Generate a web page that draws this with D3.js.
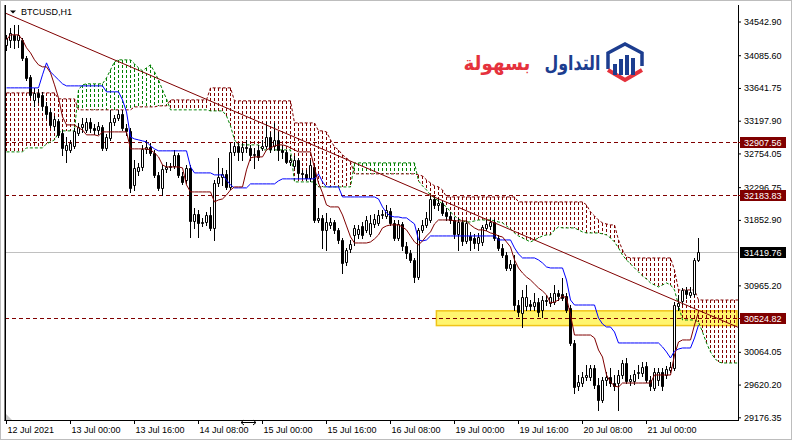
<!DOCTYPE html>
<html><head><meta charset="utf-8"><title>BTCUSD,H1</title>
<script src="https://cdn.jsdelivr.net/npm/d3@7/dist/d3.min.js"></script>
<style>html,body{margin:0;padding:0;background:#fff;overflow:hidden}svg{display:block}</style>
</head><body><svg id="chart" width="792" height="440"></svg>
<script>
// ---------- DATA ----------
const symbolTitle = "BTCUSD,H1";
const logoWord1 = "التداول";
const logoWord2 = "بسهولة";
const timeTicks = [0,16,32,48,64,80,96,112,128,144,160];
const timeTickLabels = ["12 Jul 2021","13 Jul 00:00","13 Jul 16:00","14 Jul 08:00","15 Jul 00:00","15 Jul 16:00","16 Jul 08:00","19 Jul 00:00","19 Jul 16:00","20 Jul 08:00","21 Jul 00:00"];
const priceTicks = [34542.90,34085.60,33641.75,33197.90,32754.05,32296.75,31852.90,30965.20,30064.05,29620.20,29176.35];
const levels = [32907.56,32183.83,30524.82];
const lastPrice = 31419.76;
const trendIdx = [0,183];
const trendPrice = [34653,30397];
const zoneIdx = [107.6,182.75];
const zonePrice = [30620,30420];

const opens = [34227,34294,34362,34294,34294,34050,33792,33480,33575,33548,
33399,33318,33128,33196,33033,32802,32802,32856,33033,33114,
33073,33182,33101,33073,33114,32829,32965,33182,33236,33290,
33101,33060,32327,32517,32571,32816,32843,32761,32463,32287,
32545,32571,32585,32734,32449,32395,32558,31839,31934,31812,
31825,31920,31744,32354,32436,32477,32300,32775,32856,32775,
32843,32829,32734,32802,32829,32856,32978,32856,32938,32802,
32775,32639,32585,32666,32490,32477,32422,32571,31852,31880,
31717,31785,31825,31717,31581,31283,31459,31649,31663,31771,
31717,31663,31798,31812,31920,31907,31975,31812,31608,31798,
31500,31405,31310,31079,31717,31785,31852,32137,32056,32083,
31961,31907,31852,31663,31825,31568,31635,31608,31540,31554,
31744,31771,31825,31608,31473,31377,31201,31256,30699,30591,
30686,30713,30686,30740,30632,30767,30727,30740,30862,30849,
30822,30659,30184,29601,29641,29723,29723,29845,29614,29411,
29682,29723,29641,29641,29750,29913,29668,29668,29777,29777,
29872,29682,29573,29682,29790,29750,29818,29845,30686,30754,
30903,30835,30849,31310];
const highs = [34362,34457,34498,34498,34322,34077,33820,33643,33630,33589,
33453,33372,33263,33223,33073,32978,32938,33101,33168,33236,
33236,33236,33155,33182,33141,33019,33345,33277,33345,33345,
33155,33101,32666,32626,32870,32938,32897,32802,32504,32598,
32639,32626,32802,32761,32504,32598,32598,32015,31988,31880,
31961,32029,32395,32694,32558,32531,32897,32911,32897,32897,
32938,32870,32829,32870,32938,33182,33046,33168,33046,32870,
32802,32734,32721,32694,32531,32531,32666,32598,32015,31920,
31947,31880,31852,31744,31608,31473,31581,31785,31785,31825,
31907,31920,31934,31988,31988,32056,32015,31852,31852,31825,
31554,31445,31337,31744,31852,31961,32178,32178,32151,32124,
32015,31961,31893,31880,31852,31852,31690,31663,31676,31785,
31852,31880,31866,31649,31527,31418,31310,31377,30767,30903,
30971,30767,30862,30794,30822,30835,30862,30971,30903,31066,
30862,30699,30225,29750,29790,29885,29885,29885,29709,29723,
29790,29845,29750,29818,29953,29980,29750,29818,29885,29926,
29926,29736,29845,29845,29845,29872,29926,30740,30835,30930,
30944,30944,31337,31608];
const lows = [34159,34199,34186,34199,34023,33752,33521,33399,33453,33345,
33236,33114,33073,32978,32734,32639,32775,32829,33006,33046,
33046,33046,33019,33019,32802,32802,32938,33141,33209,33073,
33006,32232,32259,32463,32531,32761,32734,32436,32259,32192,
32504,32531,32558,32436,32341,32354,31622,31744,31622,31771,
31785,31717,31581,32314,32327,32273,32273,32734,32666,32666,
32775,32666,32558,32666,32802,32829,32775,32802,32666,32694,
32626,32598,32558,32422,32422,32395,32382,31825,31825,31473,
31445,31744,31676,31540,31133,31242,31418,31513,31608,31608,
31690,31635,31757,31785,31880,31880,31785,31581,31581,31445,
31337,31283,31011,31052,31690,31757,31825,32015,31988,31920,
31852,31812,31608,31445,31513,31540,31445,31473,31445,31513,
31717,31730,31581,31445,31350,31174,31174,30632,30550,30401,
30632,30632,30632,30550,30537,30699,30686,30713,30767,30767,
30604,30157,29506,29546,29601,29682,29682,29573,29275,29384,
29614,29601,29546,29275,29709,29641,29614,29628,29709,29736,
29655,29546,29546,29614,29546,29709,29790,29818,30632,30713,
30794,30808,30822,31296];
const closes = [34322,34389,34294,34362,34050,33779,33548,33575,33521,33399,
33290,33141,33223,33006,32829,32870,32897,33060,33114,33155,
33182,33101,33073,33128,32829,32978,33182,33236,33290,33101,
33060,32287,32558,32571,32816,32843,32761,32463,32287,32545,
32571,32585,32734,32463,32368,32558,31839,31934,31812,31825,
31920,31744,32354,32436,32477,32300,32775,32856,32775,32843,
32829,32734,32748,32707,32856,32978,32816,32938,32802,32775,
32639,32666,32666,32490,32477,32422,32598,31852,31880,31717,
31825,31825,31717,31581,31269,31445,31527,31744,31730,31649,
31852,31812,31866,31920,31934,31988,31812,31608,31798,31500,
31405,31310,31079,31717,31785,31880,32137,32056,32083,31947,
31907,31852,31663,31825,31568,31812,31581,31540,31622,31757,
31798,31825,31608,31473,31377,31201,31256,30699,30604,30808,
30808,30686,30740,30604,30767,30754,30808,30862,30822,30794,
30632,30184,29587,29655,29723,29750,29845,29614,29411,29682,
29723,29641,29601,29750,29913,29668,29695,29763,29790,29858,
29682,29601,29790,29790,29601,29831,29858,30699,30727,30903,
30849,30876,31310,31419.76];

const tenkan = [34294,34362,34362,34362,34294,34186,34118,34023,33955,33928,
33928,33847,33684,33507,33250,33141,33141,33141,33101,33073,
33006,33006,33006,32992,33046,33046,33046,33046,33046,33046,
33046,32816,32816,32816,32816,32816,32802,32761,32707,32598,
32571,32571,32571,32571,32558,32327,32232,32232,32232,32232,
32232,32232,32097,32124,32137,32191,32259,32300,32300,32300,
32531,32694,32707,32707,32707,32802,32829,32856,32870,32870,
32856,32829,32802,32775,32775,32775,32775,32558,32354,32219,
32056,32029,32029,32029,31920,31771,31622,31540,31540,31540,
31540,31554,31595,31649,31744,31771,31785,31785,31785,31757,
31717,31635,31554,31513,31568,31635,31690,31798,31852,31852,
31852,31852,31839,31839,31839,31839,31785,31744,31717,31717,
31703,31676,31663,31635,31622,31554,31486,31310,31201,31133,
31079,31038,30984,30930,30889,30835,30727,30740,30767,30822,
30794,30564,30292,30292,30292,30292,30292,30252,30089,29994,
29750,29655,29601,29587,29641,29641,29641,29641,29641,29641,
29641,29641,29750,29750,29750,29750,29750,30021,30197,30225,
30225,30225,30428,30604];
const kijun = [33643,33643,33643,33643,33643,33643,33643,33643,33643,33820,
33982,33860,33806,33752,33698,33670,33670,33670,33670,33670,
33670,33670,33670,33670,33670,33589,33589,33589,33589,33480,
33317,32978,32951,32938,32924,32911,32856,32816,32789,32789,
32789,32789,32789,32789,32789,32789,32571,32490,32490,32490,
32490,32490,32463,32463,32463,32395,32327,32287,32287,32287,
32287,32341,32341,32341,32341,32341,32341,32341,32382,32409,
32409,32409,32409,32409,32409,32409,32409,32409,32477,32368,
32300,32300,32300,32300,32164,32164,32164,32164,32164,32164,
32164,32164,32164,32137,32029,31947,31907,31893,31893,31880,
31880,31839,31798,31581,31568,31581,31635,31635,31635,31635,
31635,31635,31635,31635,31635,31635,31635,31635,31635,31635,
31635,31635,31635,31581,31581,31581,31581,31473,31391,31337,
31337,31337,31337,31310,31269,31215,31201,31201,31201,31201,
31038,30767,30699,30699,30699,30699,30699,30699,30523,30442,
30401,30401,30333,30184,30184,30184,30184,30184,30184,30184,
30184,30184,30184,30184,30130,30062,29980,30075,30102,30116,
30116,30116,30252,30428];
const spanA = [32775,32775,32775,32775,32775,32829,32829,32829,32829,32829,
32884,32911,32938,33033,33060,33060,33060,33060,33616,33684,
33698,33698,33698,33698,33698,33779,33887,33996,34023,34023,
34023,34023,33969,33915,33874,33915,33955,33860,33752,33616,
33494,33345,33345,33345,33345,33345,33345,33345,33345,33345,
33345,33331,33331,33331,33331,33263,33128,32938,32870,32870,
32870,32870,32870,32870,32802,32802,32802,32802,32802,32802,
32802,32802,32368,32368,32368,32368,32368,32368,32300,32300,
32300,32300,32300,32300,32300,32300,32300,32626,32626,32626,
32626,32626,32626,32626,32626,32626,32626,32626,32626,32626,
32626,32626,32626,32382,32314,32259,32191,32151,32110,32070,
32029,31961,31907,31866,31839,31825,31825,31839,31852,31852,
31852,31852,31839,31825,31812,31771,31730,31676,31635,31608,
31581,31554,31581,31608,31635,31649,31649,31717,31757,31744,
31744,31744,31744,31717,31690,31676,31676,31676,31676,31663,
31649,31608,31554,31473,31377,31310,31256,31201,31147,31093,
31052,30998,30971,30944,30971,30998,30971,30903,30699,30496,
30496,30496,30496,30469,30333,30184,30062,29980,29926,29913,
29913,29913,29913,29913];
const spanB = [33575,33575,33575,33575,33575,33575,33575,33575,33575,33575,
33575,33575,33575,33494,33494,33494,33494,33494,33345,33345,
33345,33345,33345,33345,33345,33345,33345,33345,33345,33345,
33345,33345,33385,33385,33385,33385,33385,33385,33399,33399,
33399,33480,33480,33480,33480,33480,33480,33480,33480,33480,
33480,33643,33643,33643,33643,33643,33643,33467,33467,33467,
33467,33467,33467,33467,33467,33467,33467,33467,33467,33467,
33467,33467,33168,33168,33168,33168,33168,33168,33060,33060,
33046,32938,32843,32802,32734,32694,32639,32477,32477,32477,
32477,32477,32477,32477,32477,32477,32477,32477,32477,32477,
32477,32477,32477,32463,32449,32395,32354,32314,32300,32259,
32164,32164,32164,32164,32164,32164,32164,32164,32164,32164,
32164,32164,32164,32164,32164,32164,32164,32164,32097,32097,
32097,32097,32097,32097,32097,32097,32097,32097,32097,32097,
32097,32097,32097,32097,32097,32056,31961,31907,31852,31812,
31798,31785,31785,31581,31445,31351,31337,31337,31337,31337,
31337,31337,31337,31337,31337,31337,31337,31174,30903,30903,
30903,30903,30903,30767,30767,30767,30767,30767,30767,30767,
30767,30767,30767,30767];

// ---------- DRAW ----------
const FONT = "'Liberation Sans', Arial, sans-serif";
const MAROON = "#800000", GREEN = "#008000", BLUE = "#0000ff";
const svg = d3.select("#chart");
svg.append("rect").attr("width",792).attr("height",440).attr("fill","#fff");
svg.append("rect").attr("x",0.5).attr("y",0.5).attr("width",791).attr("height",439)
  .attr("fill","none").attr("stroke","#bdbdbd");

const x = d3.scaleLinear().domain([0,183]).range([6,738]);
const y = d3.scaleLinear().domain([29176.35,34542.90]).range([417.3,21.5]);
const cx = i => Math.round(x(i)) + 0.5;
const cy = v => Math.round(y(v)) + 0.5;

svg.append("defs").append("clipPath").attr("id","plotClip")
  .append("rect").attr("x",6).attr("y",3).attr("width",732).attr("height",417);
const plot = svg.append("g").attr("clip-path","url(#plotClip)");

// highlighted zone
plot.append("rect")
  .attr("x", x(zoneIdx[0])).attr("y", y(zonePrice[0]))
  .attr("width", x(zoneIdx[1]) - x(zoneIdx[0]))
  .attr("height", y(zonePrice[1]) - y(zonePrice[0]))
  .attr("fill","#fff56f").attr("stroke","#f0c419").attr("stroke-width",1.5);

// horizontal levels
plot.selectAll("line.lvl").data(levels).join("line").attr("class","lvl")
  .attr("x1",5).attr("x2",738).attr("y1",d=>cy(d)).attr("y2",d=>cy(d))
  .attr("stroke",MAROON).attr("stroke-dasharray","4,3");
plot.append("line").attr("x1",5).attr("x2",738).attr("y1",cy(lastPrice)).attr("y2",cy(lastPrice))
  .attr("stroke","#c0c0c0");

// ichimoku cloud hatch
const sIdx = d3.range(spanA.length);
plot.selectAll("line.hatch").data(sIdx).join("line").attr("class","hatch")
  .attr("x1",cx).attr("x2",cx)
  .attr("y1",i=>Math.round(Math.min(y(spanA[i]),y(spanB[i]))))
  .attr("y2",i=>Math.round(Math.max(y(spanA[i]),y(spanB[i]))))
  .attr("stroke",i=>spanA[i]>spanB[i]?GREEN:MAROON)
  .attr("stroke-dasharray","3,2");
const lineGen = d3.line().x((d,i)=>cx(i)).y(d=>y(d));
plot.append("path").datum(spanA).attr("d",lineGen).attr("fill","none")
  .attr("stroke",GREEN).attr("stroke-dasharray","3,2");
plot.append("path").datum(spanB).attr("d",lineGen).attr("fill","none")
  .attr("stroke",MAROON).attr("stroke-dasharray","3,2");

// candles
const cIdx = d3.range(closes.length);
const cg = plot.append("g");
cg.selectAll("line.wick").data(cIdx).join("line").attr("class","wick")
  .attr("x1",cx).attr("x2",cx)
  .attr("y1",i=>Math.round(y(highs[i])))
  .attr("y2",i=>Math.round(y(lows[i]))+1)
  .attr("stroke","#000");
cg.selectAll("path.body").data(cIdx).join("path").attr("class","body")
  .attr("d",i=>{
    const t = cy(Math.max(opens[i],closes[i])), b = cy(Math.min(opens[i],closes[i]));
    const l = cx(i) - 1;
    return `M${l},${t}H${l+2}V${b}H${l}Z`;
  })
  .attr("fill",i=>closes[i]>=opens[i]?"#fff":"#000")
  .attr("stroke","#000");

// tenkan / kijun
plot.append("path").datum(kijun).attr("d",lineGen).attr("fill","none").attr("stroke",BLUE);
plot.append("path").datum(tenkan).attr("d",lineGen).attr("fill","none").attr("stroke",MAROON);

// trend line
plot.append("line")
  .attr("x1",x(trendIdx[0])).attr("y1",y(trendPrice[0]))
  .attr("x2",x(trendIdx[1])).attr("y2",y(trendPrice[1]))
  .attr("stroke",MAROON);

// frame
svg.append("line").attr("x1",5.25).attr("x2",5.25).attr("y1",5).attr("y2",421).attr("stroke","#000").attr("stroke-width",1.5);
svg.append("line").attr("x1",738.5).attr("x2",738.5).attr("y1",5).attr("y2",421).attr("stroke","#000");
svg.append("line").attr("x1",4.5).attr("x2",739).attr("y1",420.5).attr("y2",420.5).attr("stroke","#000");
svg.append("path").attr("d","M6,414 L6,420 L12,420 Z").attr("fill","#c8c8c8");

// price axis
const ya = svg.append("g").attr("transform","translate(738,0)")
  .call(d3.axisRight(y).tickValues(priceTicks).tickSize(3).tickPadding(3).tickFormat(d=>d.toFixed(2)));
ya.select(".domain").remove();
ya.attr("font-family",FONT).attr("font-size",9);
ya.selectAll("text").attr("fill","#000");
ya.selectAll("line").attr("stroke","#000");

// highlighted price labels
const tagData = levels.map(v=>({v, bg:MAROON})).concat([{v:lastPrice, bg:"#000"}]);
const tags = svg.append("g");
tags.selectAll("rect").data(tagData).join("rect")
  .attr("x",740).attr("y",d=>Math.round(y(d.v))-5).attr("width",46).attr("height",11).attr("fill",d=>d.bg);
tags.selectAll("text").data(tagData).join("text")
  .attr("x",744).attr("y",d=>Math.round(y(d.v))+3.5)
  .attr("font-family",FONT).attr("font-size",9).attr("fill","#fff")
  .text(d=>d.v.toFixed(2));
tags.selectAll("line").data(levels).join("line")
  .attr("x1",738).attr("x2",741).attr("y1",d=>cy(d)).attr("y2",d=>cy(d)).attr("stroke",MAROON);

// time axis
const xa = svg.append("g").attr("transform","translate(0,420)")
  .call(d3.axisBottom(x).tickValues(timeTicks).tickSize(4).tickFormat((d,k)=>timeTickLabels[k]));
xa.select(".domain").remove();
xa.attr("font-family",FONT).attr("font-size",9);
xa.selectAll("line").attr("stroke","#000");
xa.selectAll("text").attr("text-anchor","start").attr("x",1).attr("y",12.5).attr("dy",0).attr("fill","#000");

// title
svg.append("path").attr("d","M10,10.5 L16,10.5 L13,13.5 Z").attr("fill","#000");
svg.append("text").attr("x",21).attr("y",15).attr("font-family",FONT).attr("font-size",9)
  .attr("fill","#000").text(symbolTitle);

// logo
const logo = svg.append("g");
function logoWord(word, color, centerX, targetW){
  const t = logo.append("text").attr("x",0).attr("y",0).attr("text-anchor","middle")
    .attr("font-family","'DejaVu Sans', sans-serif").attr("font-weight","bold").attr("font-size",20)
    .attr("fill",color).text(word);
  const w = t.node().getComputedTextLength() || targetW;
  t.attr("transform",`translate(${centerX},70) scale(${targetW/w},1)`);
}
logoWord(logoWord1, "#1c3d8f", 572.5, 56);
logoWord(logoWord2, "#e5323d", 497, 67);
logo.append("path").attr("d","M608,69 V53 L625,44 L642,53 V66").attr("fill","none")
  .attr("stroke","#1c3d8f").attr("stroke-width",3.5);
logo.append("path").attr("d","M608,70 L625,80 L642,70").attr("fill","none")
  .attr("stroke","#e5323d").attr("stroke-width",4);
[[613,64],[619,59],[625,55],[631,58]].forEach(b=>{
  logo.append("rect").attr("x",b[0]).attr("y",b[1]).attr("width",4).attr("height",75-b[1]).attr("fill","#1c3d8f");
});

// mouse cursor
svg.append("path").attr("d","M241,422.5 H256 M241,422.5 l3,-2.5 M241,422.5 l3,2.5 M256,422.5 l-3,-2.5 M256,422.5 l-3,2.5")
  .attr("stroke","#000").attr("fill","none");
</script></body></html>
